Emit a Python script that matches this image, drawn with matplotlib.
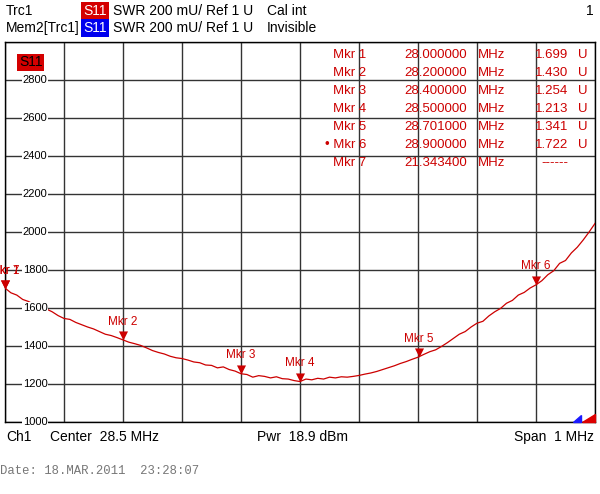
import numpy as np
import matplotlib
matplotlib.use("Agg")
import matplotlib.pyplot as plt
from matplotlib.markers import MarkerStyle

plt.rcParams["font.family"] = ["Liberation Sans", "DejaVu Sans"]

# trace, 10 kHz steps, SWR in mU
freq = np.round(np.arange(28.00, 29.0001, 0.01), 2)
swr = [1705, 1680, 1668, 1645, 1634, 1617, 1606, 1595, 1580, 1560,
       1545, 1540, 1524, 1512, 1500, 1490, 1476, 1462, 1455, 1444,
       1432, 1420, 1412, 1403, 1390, 1376, 1366, 1358, 1346, 1338,
       1334, 1326, 1316, 1312, 1300, 1298, 1285, 1290, 1276, 1268,
       1254, 1250, 1236, 1244, 1240, 1232, 1238, 1228, 1226, 1218,
       1213, 1226, 1222, 1230, 1226, 1236, 1232, 1238, 1236, 1240,
       1245, 1252, 1258, 1266, 1276, 1286, 1296, 1308, 1318, 1330,
       1341, 1356, 1370, 1380, 1398, 1418, 1440, 1462, 1476, 1500,
       1520, 1530, 1558, 1580, 1598, 1625, 1640, 1668, 1682, 1705,
       1722, 1744, 1775, 1796, 1835, 1850, 1890, 1920, 1958, 2000,
       2045]

# markers
mkr_names = ["Mkr 1", "Mkr 2", "Mkr 3", "Mkr 4", "Mkr 5", "Mkr 6", "Mkr 7"]
mkr_freq = [28.000000, 28.200000, 28.400000, 28.500000, 28.701000, 28.900000, 21.343400]
mkr_val = [1.699, 1.430, 1.254, 1.213, 1.341, 1.722, None]

y_ticks = [1000, 1200, 1400, 1600, 1800, 2000, 2200, 2400, 2600, 2800]

RED = "#cc0000"
W, H = 600, 494


def fx(x):
    return x / W


def fy(y):
    return 1 - y / H


fig = plt.figure(figsize=(6, 4.94), dpi=100)
fig.patch.set_facecolor("white")
ax = fig.add_axes([fx(5), fy(422), 590 / W, 380 / H])

ax.set_xlim(28.0, 29.0)
ax.set_ylim(1000, 3000)
ax.set_xticks(np.linspace(28.0, 29.0, 11))
ax.set_yticks(np.arange(1000, 3001, 200))
ax.tick_params(length=0, labelbottom=False, labelleft=False)
ax.grid(True, color="#333333", lw=1.0)
for s in ax.spines.values():
    s.set_color("black")
    s.set_linewidth(1.0)

ax.plot(freq, swr, color=RED, lw=0.9, zorder=3)

# y labels sit on the grid lines
ytr = ax.get_yaxis_transform()
for v in y_ticks:
    ax.text(0.051, v, str(v), transform=ytr, ha="center", va="center",
            fontsize=8, color="black", zorder=4,
            bbox=dict(facecolor="white", edgecolor="none", pad=0.6))

# marker triangles, tip on the trace
tri = MarkerStyle([(-1, 2), (1, 2), (0, 0), (-1, 2)])
for name, f, v in zip(mkr_names, mkr_freq, mkr_val):
    xf = max(f, 28.0)
    if v is None:
        yv = mkr_val[0] * 1000  # off-span marker parks at the left edge
    else:
        yv = v * 1000
    ax.scatter([xf], [yv], marker=tri, s=170, color=RED, zorder=5,
               clip_on=False, linewidths=0)
    ax.annotate(name, (xf, yv), xytext=(0, 9), textcoords="offset points",
                ha="center", va="bottom", fontsize=8.5, color=RED,
                annotation_clip=False, zorder=5)

# S11 tag inside the grid
ax.text(14 / 590, 0.965, "S11", transform=ax.transAxes,
        ha="left", va="top", fontsize=10, color="black",
        bbox=dict(facecolor="#d40000", edgecolor="none", pad=1.2))

# marker table
rows_y = [55, 73, 91, 109, 127, 145, 163]
for i, (name, f, v) in enumerate(zip(mkr_names, mkr_freq, mkr_val)):
    y = fy(rows_y[i])
    lab = name if i != 5 else "\u2022 " + name
    fig.text(fx(366), y, lab, ha="right", va="center", fontsize=9.5, color=RED)
    fig.text(fx(467), y, f"{f:.6f}", ha="right", va="center", fontsize=9.5, color=RED)
    fig.text(fx(478), y, "MHz", ha="left", va="center", fontsize=9.5, color=RED)
    if v is not None:
        fig.text(fx(568), y, f"{v:.3f}", ha="right", va="center", fontsize=9.5, color=RED)
        fig.text(fx(578), y, "U", ha="left", va="center", fontsize=9.5, color=RED)
    else:
        fig.text(fx(555), y, "------", ha="center", va="center", fontsize=9.5, color=RED)

# header lines
hdr = dict(fontsize=10, va="center", color="black")
fig.text(fx(6), fy(11), "Trc1", ha="left", **hdr)
fig.text(fx(95), fy(11), "S11", ha="center", fontsize=10, va="center", color="white",
         bbox=dict(facecolor="#d40000", edgecolor="none", pad=1.5))
fig.text(fx(113), fy(11), "SWR 200 mU/ Ref 1 U", ha="left", **hdr)
fig.text(fx(267), fy(11), "Cal int", ha="left", **hdr)
fig.text(fx(594), fy(11), "1", ha="right", **hdr)
fig.text(fx(6), fy(28), "Mem2[Trc1]", ha="left", **hdr)
fig.text(fx(95), fy(28), "S11", ha="center", fontsize=10, va="center", color="white",
         bbox=dict(facecolor="#0000ee", edgecolor="none", pad=1.5))
fig.text(fx(113), fy(28), "SWR 200 mU/ Ref 1 U", ha="left", **hdr)
fig.text(fx(267), fy(28), "Invisible", ha="left", **hdr)

# footer
fig.text(fx(6), fy(437), "Ch1", ha="left", **hdr)
fig.text(fx(50), fy(437), "Center  28.5 MHz", ha="left", **hdr)
fig.text(fx(257), fy(437), "Pwr  18.9 dBm", ha="left", **hdr)
fig.text(fx(594), fy(437), "Span  1 MHz", ha="right", **hdr)
fig.text(fx(0), fy(471), "Date: 18.MAR.2011  23:28:07", ha="left", va="center",
         fontsize=8.8, color="#777777", family="Liberation Mono")

# little channel flags in the bottom right corner
ax.fill([0.963, 0.976, 0.976], [0.0, 0.0, 0.018], color="#1a1aff",
        transform=ax.transAxes, clip_on=False, zorder=6)
ax.fill([0.978, 1.0, 1.0], [0.0, 0.0, 0.02], color="#dd0000",
        transform=ax.transAxes, clip_on=False, zorder=6)

fig.savefig("out.png", dpi=100)
